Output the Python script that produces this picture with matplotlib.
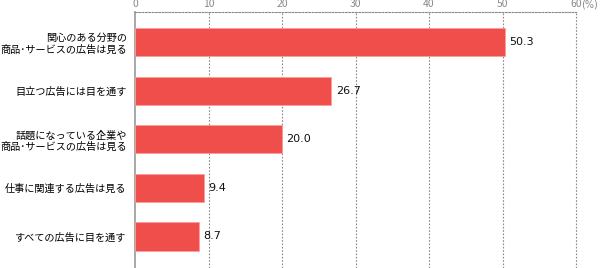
import numpy as np
import matplotlib.pyplot as plt

plt.rcParams['font.family'] = ['Noto Sans CJK JP', 'DejaVu Sans']

labels = [
    "関心のある分野の\n商品･サービスの広告は見る",
    "目立つ広告には目を通す",
    "話題になっている企業や\n商品･サービスの広告は見る",
    "仕事に関連する広告は見る",
    "すべての広告に目を通す",
]
values = [50.3, 26.7, 20.0, 9.4, 8.7]
ticks = [0, 10, 20, 30, 40, 50, 60]

fig = plt.figure(figsize=(6, 2.68), dpi=100)
ax = fig.add_axes([0.225, 0.0, 0.735, 0.955])

y = np.arange(len(values))
ax.barh(y, values, height=0.58, color="#f04e4b", edgecolor="#f7a09d", linewidth=0.6, zorder=3)
for yi, v in zip(y, values):
    ax.text(v + 0.6, yi, f"{v:.1f}", va="center", ha="left", fontsize=8, color="#111111",
            family="DejaVu Sans")

ax.set_xlim(0, 60)
ax.set_ylim(4.65, -0.62)
ax.set_yticks(y)
ax.set_yticklabels(labels, fontsize=7.3, linespacing=1.15)
ax.set_xticks(ticks)
ax.set_xticklabels([str(t) for t in ticks], fontsize=7.5, color="#888888")
ax.xaxis.tick_top()
ax.tick_params(axis="x", length=0, pad=2)
ax.tick_params(axis="y", length=0, pad=6)
ax.annotate("(%)", xy=(60, 1), xycoords=("data", "axes fraction"),
            xytext=(4, 1.5), textcoords="offset points", family="DejaVu Sans",
            fontsize=7, color="#888888", ha="left", va="bottom", annotation_clip=False)

for t in ticks[1:]:
    ax.axvline(t, color="#888888", linestyle=(0, (1.5, 1.5)), linewidth=0.8, zorder=1,
               clip_on=False)

ax.spines["right"].set_visible(False)
ax.spines["bottom"].set_visible(False)
ax.spines["top"].set_linestyle((0, (1.5, 1.5)))
ax.spines["top"].set_color("#888888")
ax.spines["top"].set_linewidth(0.8)
ax.spines["left"].set_color("#999999")
ax.spines["left"].set_linewidth(1.2)

fig.savefig("out.png", dpi=100)
